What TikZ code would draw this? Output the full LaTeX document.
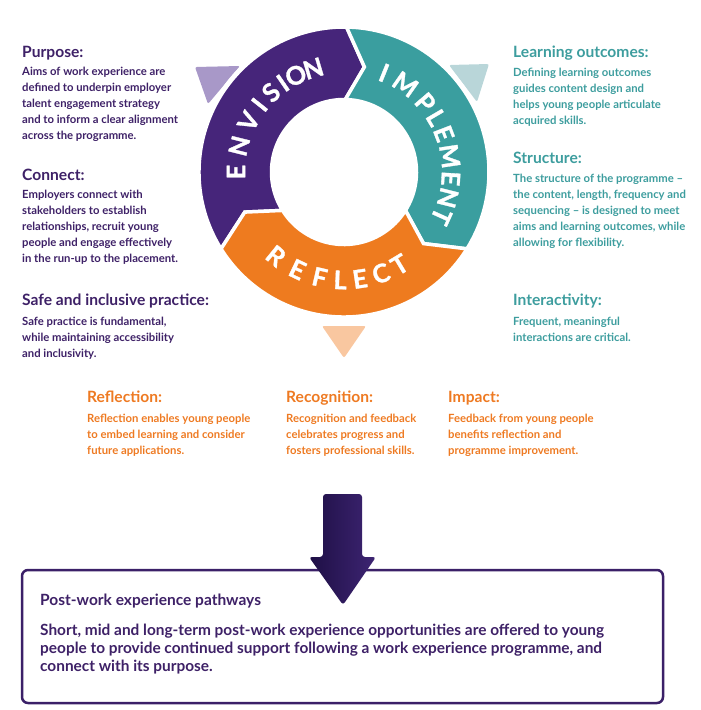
\documentclass[tikz,border=0pt]{standalone}
\usepackage{fontspec}
\setmainfont{Lato}
\newfontfamily\ringfont{Lato}[BoldFeatures={FakeBold=1.2}]
\definecolor{cpur}{HTML}{46257A}
\definecolor{cpurtx}{HTML}{3E2167}
\definecolor{cteal}{HTML}{3A9E9F}
\definecolor{ctealtx}{HTML}{3D9D9E}
\definecolor{corg}{HTML}{EE7B1F}
\definecolor{corgtx}{HTML}{EE7A22}
\definecolor{ctria}{HTML}{A898C8}
\definecolor{ctrib}{HTML}{B9D6D9}
\definecolor{ctric}{HTML}{F9C7A0}
\definecolor{cbox}{HTML}{3B2068}
\definecolor{carrl}{HTML}{1E0F45}
\definecolor{carrr}{HTML}{3E2573}

\newcommand\rout{145}
\newcommand\rin{72.5}
\newcommand\rmid{107}
% ring segment: colour, start angle, end angle (clockwise)
\newcommand\ringpart[3]{%
  \pgfmathsetmacro\tipang{#3-10}%
  \pgfmathsetmacro\notchang{#2-10}%
  \fill[#1, draw=white, line width=3.5pt, line join=miter]
    (#2:\rout) arc[start angle=#2, end angle=#3, radius=\rout]
    -- (\tipang:\rmid) -- (#3:\rin)
    arc[start angle=#3, end angle=#2, radius=\rin]
    -- (\notchang:\rmid) -- cycle;}

\begin{document}
\begin{tikzpicture}[
  x=1pt, y=1pt, line join=round,
  hd/.style={anchor=north west, inner sep=0pt, font=\fontsize{15.6}{18}\selectfont\bfseries},
  tx/.style={anchor=north west, inner sep=0pt, align=left, font=\fontsize{11.3}{16}\selectfont\bfseries},
  tri/.style={fill=#1, rounded corners=2pt},
  ringlt/.style={text=white, inner sep=0pt, font=\ringfont\fontsize{25.5}{25.5}\selectfont\bfseries},
  pbox/.style={draw=cbox, line width=2.5pt, rounded corners=6pt, fill=white},
]
\useasboundingbox (0,0) rectangle (701,-710);

\fill[tri=ctria] (195,-67) -- (240,-66) -- (208,-104) -- cycle;
\fill[tri=ctrib] (449,-65) -- (489,-64) -- (477,-102) -- cycle;
\fill[tri=ctric] (322,-326) -- (366,-326) -- (344,-358) -- cycle;

\begin{scope}[shift={(344,-172)}]
  \fill[white] (0,0) circle[radius=148];
  \ringpart{cpur}{212}{89}
  \ringpart{cteal}{89}{-32}
  \ringpart{corg}{328}{212}
  \foreach \ch/\ang [count=\i] in {E/180,N/166,V/152,I/141.5,S/132.5,I/124.5,O/116.5,N/106.5}
    \node[ringlt, rotate=\ang-90] (env\i) at (\ang:108) {\ch};
  \foreach \ch/\ang [count=\i] in {I/68,M/55,P/40.5,L/30.5,E/21,M/8.5,E/-3.5,N/-14,T/-24.5}
    \node[ringlt, rotate=\ang-90] (imp\i) at (\ang:107) {\ch};
  \foreach \ch/\ang [count=\i] in {R/231,E/244.5,F/257,L/268,E/278.5,C/290,T/301}
    \node[ringlt, rotate=\ang+90] (ref\i) at (\ang:108) {\ch};
\end{scope}

\node[hd, text=cpurtx] (pur) at (22,-46) {Purpose:};
\node[tx, text=cpurtx] (purtx) at (22,-67) {Aims of work experience are\\defined to underpin employer\\talent engagement strategy\\and to inform a clear alignment\\across the programme.};
\node[hd, text=cpurtx] (con) at (22,-169) {Connect:};
\node[tx, text=cpurtx] (contx) at (22,-190) {Employers connect with\\stakeholders to establish\\relationships, recruit young\\people and engage effectively\\in the run-up to the placement.};
\node[hd, text=cpurtx] (safe) at (22,-294) {Safe and inclusive practice:};
\node[tx, text=cpurtx] (safetx) at (22,-317) {Safe practice is fundamental,\\while maintaining accessibility\\and inclusivity.};

\node[hd, text=ctealtx] (lout) at (513,-46) {Learning outcomes:};
\node[tx, text=ctealtx] (louttx) at (513,-68) {Defining learning outcomes\\guides content design and\\helps young people articulate\\acquired skills.};
\node[hd, text=ctealtx] (str) at (513,-152) {Structure:};
\node[tx, text=ctealtx] (strtx) at (513,-174) {The structure of the programme --\\the content, length, frequency and\\sequencing -- is designed to meet\\aims and learning outcomes, while\\allowing for flexibility.};
\node[hd, text=ctealtx] (inter) at (513,-294) {Interactivity:};
\node[tx, text=ctealtx] (intertx) at (513,-317) {Frequent, meaningful\\interactions are critical.};

\node[hd, text=corgtx] (refl) at (87,-391) {Reflection:};
\node[tx, text=corgtx] (refltx) at (87,-414) {Reflection enables young people\\to embed learning and consider\\future applications.};
\node[hd, text=corgtx] (reco) at (286,-391) {Recognition:};
\node[tx, text=corgtx] (recotx) at (286,-414) {Recognition and feedback\\celebrates progress and\\fosters professional skills.};
\node[hd, text=corgtx] (imp) at (448,-391) {Impact:};
\node[tx, text=corgtx] (imptx) at (448,-414) {Feedback from young people\\benefits reflection and\\programme improvement.};

\node[pbox, minimum width=641, minimum height=133] (post) at (342.5,-636.5) {};
\node[hd, text=cpurtx, font=\fontsize{15.5}{18}\selectfont\bfseries] (posthd) at (40,-594) {Post-work experience pathways};
\node[tx, text=cpurtx, font=\fontsize{15.4}{18}\selectfont\bfseries] (posttx) at (40,-624) {Short, mid and long-term post-work experience opportunities are offered to young\\people to provide continued support following a work experience programme, and\\connect with its purpose.};

\shade[left color=carrl, right color=carrr, rounded corners=3pt]
  (323,-494) -- (362,-494) -- (362,-557) -- (376,-557) -- (343,-605)
  -- (309,-557) -- (323,-557) -- cycle;
\end{tikzpicture}
\end{document}
